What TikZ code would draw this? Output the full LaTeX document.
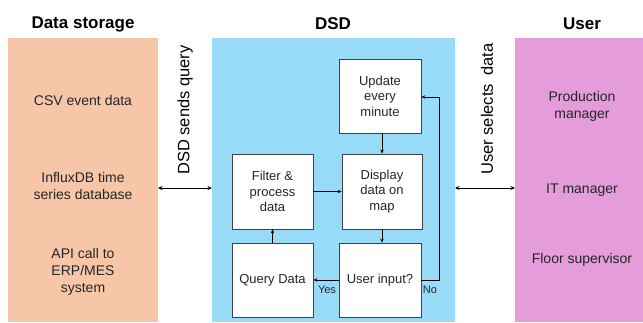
\documentclass[tikz,border=0pt]{standalone}
\usepackage{fontspec}
\setmainfont{Liberation Sans}
\usetikzlibrary{arrows.meta}
\definecolor{peach}{HTML}{F7C6A9}
\definecolor{skyb}{HTML}{98DBF8}
\definecolor{pinkp}{HTML}{E49CDB}
\definecolor{txt}{HTML}{262626}
\begin{document}
\begin{tikzpicture}[x=1pt,y=-1pt,
  title/.style={font=\fontsize{17}{19}\selectfont\bfseries,text=black},
  side/.style={font=\fontsize{14}{17}\selectfont,text=txt,align=center},
  rot/.style={font=\fontsize{16.5}{18}\selectfont,text=black,rotate=90},
  stepbox/.style={draw=black!75,fill=white,line width=0.8pt,inner sep=0pt,align=center,font=\fontsize{13}{15.5}\selectfont,text=txt},
  arr/.style={-{Stealth[length=4pt,width=3.5pt]},line width=1pt,draw=black},
  darr/.style={{Stealth[length=4.5pt,width=4pt]}-{Stealth[length=4.5pt,width=4pt]},line width=1pt,draw=black},
  lab/.style={font=\fontsize{11}{13}\selectfont,text=txt}]
\useasboundingbox (0,0) rectangle (643,322);
% panels
\fill[peach] (8,38) rectangle (158,322);
\fill[skyb] (212,38) rectangle (455,322);
\fill[pinkp] (515,38) rectangle (643,322);
\coordinate (LS) at (158,188);
\coordinate (DL) at (212,188);
\coordinate (DR) at (455,188);
\coordinate (US) at (515,188);
% titles
\node[title] (t1) at (83,24) {Data storage};
\node[title] (t2) at (333,24) {DSD};
\node[title] (t3) at (582,24) {User};
% left texts
\node[side] (s1) at (83,100) {CSV event data};
\node[side] (s2) at (83,186) {InfluxDB time\\series database};
\node[side] (s3) at (83,272) {API call to\\ERP/MES\\system};
% right texts
\node[side] (u1) at (582,106) {Production\\manager};
\node[side] (u2) at (582,190) {IT manager};
\node[side] (u3) at (582,260) {Floor supervisor};
% rotated labels
\node[rot,anchor=west,inner sep=0pt] (r1) at (185,175) {DSD sends query};
\node[rot,anchor=west,inner sep=0pt] (r2) at (487,175) {User selects\hspace{0.5em}data};
% double arrows
\draw[darr] (LS) -- (DL);
\draw[darr] (DR) -- (US);
% boxes
\node[stepbox,minimum width=82pt,minimum height=74pt] (upd) at (380,96) {Update\\every\\minute};
\node[stepbox,minimum width=81pt,minimum height=75pt] (fil) at (272.5,191.5) {Filter \&\\process\\data};
\node[stepbox,minimum width=80pt,minimum height=75pt] (dis) at (382,191.5) {Display\\data on\\map};
\node[stepbox,minimum width=81pt,minimum height=74pt] (qry) at (272.5,280) {Query Data};
\node[stepbox,minimum width=82pt,minimum height=74pt] (inp) at (380,280) {User input?};
% connectors
\draw[arr] (upd.south -| dis.south) -- (dis.north);
\draw[arr] (fil.east) -- (dis.west);
\draw[arr] (dis.south) -- (dis.south |- inp.north);
\draw[arr] (inp.west) -- (qry.east);
\draw[arr] (qry.north) -- (fil.south);
\coordinate (c1) at (439,280);
\coordinate (c2) at (439,97);
\draw[arr] (inp.east) -- (c1) -- (c2) -- (c2 -| upd.east);
\node[lab] (yes) at (327,290) {Yes};
\node[lab] (no) at (430,290) {No};
\end{tikzpicture}
\end{document}
